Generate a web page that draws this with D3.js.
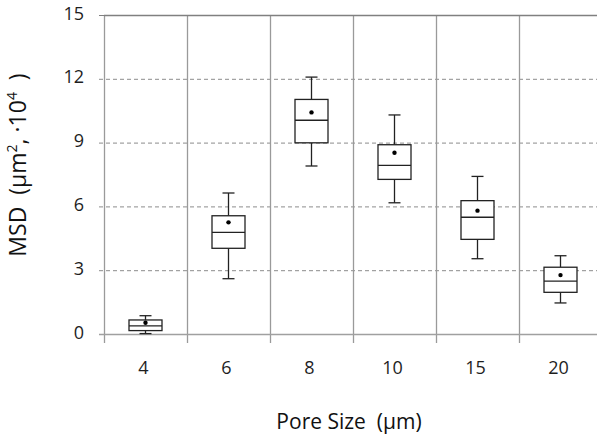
<!DOCTYPE html>
<html>
<head>
<meta charset="utf-8">
<script src="https://cdn.jsdelivr.net/npm/d3@7"></script>
<style>
  body { margin: 0; background: #fff; }
  svg { font-family: "Open Sans", Lato, sans-serif; }
</style>
</head>
<body>
<div class="canvas"></div>
<script>
const poreSizes = ["4", "6", "8", "10", "15", "20"];
const whiskerLow = [0.02, 2.6, 7.9, 6.17, 3.54, 1.46];
const q1 = [0.16, 4.03, 8.99, 7.27, 4.45, 1.96];
const median = [0.38, 4.78, 10.05, 7.93, 5.49, 2.49];
const q3 = [0.66, 5.56, 11.03, 8.9, 6.27, 3.14];
const whiskerHigh = [0.86, 6.63, 12.08, 10.3, 7.41, 3.68];
const means = [0.53, 5.25, 10.42, 8.52, 5.8, 2.77];
const yTicks = [0, 3, 6, 9, 12, 15];

const margin = { top: 15, left: 104, bottom: 103 };
const W = 597, H = 437;
const plotH = H - margin.top - margin.bottom;

const svg = d3.select(".canvas").append("svg")
  .attr("width", W).attr("height", H);

const x = d3.scaleBand().domain(poreSizes).range([margin.left, margin.left + 83 * 6]);
const y = d3.scaleLinear().domain([0, 15]).range([margin.top + plotH, margin.top]);

// horizontal dashed grid
svg.append("g").selectAll("line")
  .data(yTicks.filter((t) => t > 0 && t < 15))
  .join("line")
  .attr("x1", margin.left - 5).attr("x2", W)
  .attr("y1", (d) => y(d) + 0.5).attr("y2", (d) => y(d) + 0.5)
  .attr("stroke", "#8c8c8c").attr("stroke-dasharray", "4,3");

// vertical category separators
svg.append("g").selectAll("line")
  .data(poreSizes.concat(["end"]))
  .join("line")
  .attr("x1", (d, i) => Math.round(x.range()[0] + i * x.bandwidth()) + 0.5)
  .attr("x2", (d, i) => Math.round(x.range()[0] + i * x.bandwidth()) + 0.5)
  .attr("y1", y(15)).attr("y2", y(0) + 9)
  .attr("stroke", "#9a9a9a").attr("stroke-width", 1.3);

// top border and baseline
svg.append("line").attr("x1", margin.left).attr("x2", W)
  .attr("y1", y(15) + 0.5).attr("y2", y(15) + 0.5)
  .attr("stroke", "#808080").attr("stroke-width", 1.5);
svg.append("line").attr("x1", margin.left - 5).attr("x2", W)
  .attr("y1", y(0) + 0.5).attr("y2", y(0) + 0.5)
  .attr("stroke", "#a0a0a0").attr("stroke-width", 1.5);
svg.append("line").attr("x1", margin.left - 5).attr("x2", margin.left)
  .attr("y1", y(15) + 0.5).attr("y2", y(15) + 0.5)
  .attr("stroke", "#808080");

// y tick labels
svg.append("g").selectAll("text")
  .data(yTicks)
  .join("text")
  .attr("x", 84).attr("y", (d) => y(d) + 4.5)
  .attr("text-anchor", "end")
  .attr("font-size", 18).attr("fill", "#1e1e1e")
  .text((d) => d);

// x tick labels
svg.append("g").selectAll("text")
  .data(poreSizes)
  .join("text")
  .attr("x", (d) => x(d) + x.bandwidth() / 2 - 2)
  .attr("y", 374)
  .attr("text-anchor", "middle")
  .attr("font-size", 18).attr("fill", "#1e1e1e")
  .text((d) => d);

// axis titles
svg.append("text")
  .attr("x", 349).attr("y", 429)
  .attr("text-anchor", "middle")
  .attr("font-size", 21).attr("fill", "#111")
  .attr("xml:space", "preserve")
  .text("Pore Size  (µm)");

const yTitle = svg.append("text")
  .attr("transform", "translate(26,165) rotate(-90)")
  .attr("text-anchor", "middle")
  .attr("font-size", 23).attr("fill", "#111")
  .attr("xml:space", "preserve");
yTitle.append("tspan").text("MSD  (µm");
yTitle.append("tspan").attr("font-size", 14).attr("dy", -9).text("2");
yTitle.append("tspan").attr("dy", 9).text(", ·10");
yTitle.append("tspan").attr("font-size", 14).attr("dy", -9).text("4");
yTitle.append("tspan").attr("dy", 9).text("  )");

// box plots
const boxW = 33, capW = 12;
const boxes = svg.append("g").selectAll("g")
  .data(poreSizes)
  .join("g")
  .attr("transform", (d) => `translate(${x(d) + x.bandwidth() / 2},0)`);

boxes.append("line")
  .attr("x1", 0).attr("x2", 0)
  .attr("y1", (d, i) => y(whiskerHigh[i])).attr("y2", (d, i) => y(q3[i]))
  .attr("stroke", "#222").attr("stroke-width", 1.3);
boxes.append("line")
  .attr("x1", 0).attr("x2", 0)
  .attr("y1", (d, i) => y(q1[i])).attr("y2", (d, i) => y(whiskerLow[i]))
  .attr("stroke", "#222").attr("stroke-width", 1.3);
boxes.append("line")
  .attr("x1", -capW / 2).attr("x2", capW / 2)
  .attr("y1", (d, i) => y(whiskerHigh[i])).attr("y2", (d, i) => y(whiskerHigh[i]))
  .attr("stroke", "#222").attr("stroke-width", 1.3);
boxes.append("line")
  .attr("x1", -capW / 2).attr("x2", capW / 2)
  .attr("y1", (d, i) => y(whiskerLow[i])).attr("y2", (d, i) => y(whiskerLow[i]))
  .attr("stroke", "#222").attr("stroke-width", 1.3);
boxes.append("rect")
  .attr("x", -boxW / 2).attr("width", boxW)
  .attr("y", (d, i) => y(q3[i]))
  .attr("height", (d, i) => y(q1[i]) - y(q3[i]))
  .attr("fill", "#fff").attr("stroke", "#222").attr("stroke-width", 1.3);
boxes.append("line")
  .attr("x1", -boxW / 2).attr("x2", boxW / 2)
  .attr("y1", (d, i) => y(median[i])).attr("y2", (d, i) => y(median[i]))
  .attr("stroke", "#222").attr("stroke-width", 1.3);
boxes.append("circle")
  .attr("cx", 0).attr("cy", (d, i) => y(means[i]))
  .attr("r", 2.2).attr("fill", "#000");
</script>
</body>
</html>
